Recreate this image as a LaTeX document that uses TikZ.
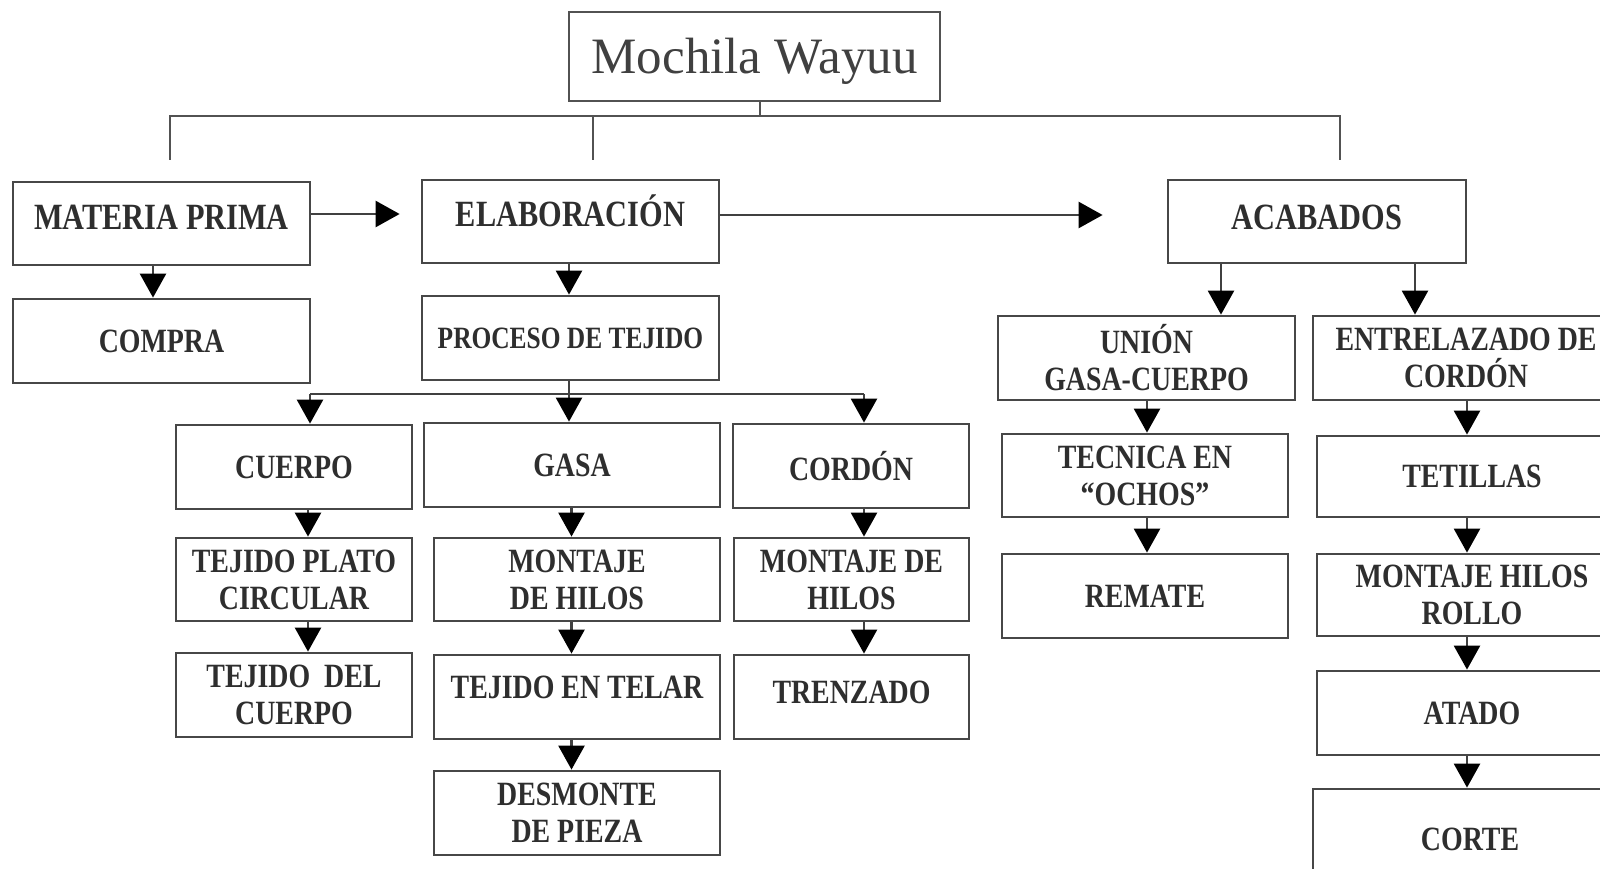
\documentclass[tikz,border=0pt]{standalone}
\usepackage{fontspec}
\setmainfont{Liberation Serif}
\newfontfamily\boxfont{Liberation Serif Bold}[FakeStretch=0.82]
\usetikzlibrary{arrows.meta}
\tikzset{
  box/.style={draw=black!72, line width=2.8pt, inner sep=0pt, align=center,
    text=black!82, font=\boxfont\fontsize{34}{37}\selectfont},
  bx/.style 2 args={box, minimum width=#1pt, minimum height=#2pt},
  big/.style={font=\boxfont\fontsize{37}{40}\selectfont},
  conn/.style={draw=black!75, line width=2.6pt},
  arr/.style={conn, -{Triangle[length=24pt,width=26pt,color=black]}},
  tline/.style={draw=black!68, line width=2pt},
}
\begin{document}
\begin{tikzpicture}[x=1pt,y=-1pt]
\useasboundingbox[fill=white] (0,0) rectangle (1600,869);

% title
\node[draw=black!68, line width=2pt, minimum width=371pt, minimum height=89pt,
  inner sep=0pt, text=black!75, font=\fontsize{51}{55}\selectfont,
  text height=34pt, text depth=0pt] (top) at (754.5,57) {Mochila Wayuu};

% first level
\node[bx={297}{83}, big, text depth=12pt] (mp) at (161.5,223.5) {MATERIA PRIMA};
\node[bx={297}{84}] (compra) at (161.5,341) {COMPRA};
\node[bx={297}{83}, big, text height=25pt, text depth=15pt] (elab) at (570.5,221.5) {ELABORACIÓN};
\node[bx={297}{84}, font=\boxfont\fontsize{31}{34}\selectfont] (proc) at (570.5,338) {PROCESO DE TEJIDO};
\node[bx={298}{83}, big, text depth=8pt] (acab) at (1317,221.5) {ACABADOS};

% elaboracion branches
\node[bx={236}{84}] (cuerpo) at (294,467) {CUERPO};
\node[bx={296}{84}] (gasa) at (572,465) {GASA};
\node[bx={236}{84}] (cordon) at (851,466) {CORDÓN};
\node[bx={236}{83}] (plato) at (294,579.5) {TEJIDO PLATO\\CIRCULAR};
\node[bx={236}{84}] (tcuerpo) at (294,695) {TEJIDO\ \ DEL\\CUERPO};
\node[bx={286}{83}] (mhilos) at (577,579.5) {MONTAJE\\DE HILOS};
\node[bx={286}{84}, text depth=20pt] (telar) at (577,697) {TEJIDO EN TELAR};
\node[bx={286}{84}] (desmonte) at (577,813) {DESMONTE\\DE PIEZA};
\node[bx={235}{83}] (mhilos2) at (851.5,579.5) {MONTAJE DE\\HILOS};
\node[bx={235}{84}, text depth=10pt] (trenzado) at (851.5,697) {TRENZADO};

% acabados branches
\node[bx={297}{84}] (union) at (1146.5,358) {UNIÓN\\GASA-CUERPO};
\node[bx={306}{84}] (entre) at (1466,358) {ENTRELAZADO DE\\CORDÓN};
\node[bx={286}{83}] (tecnica) at (1145,475.5) {TECNICA EN\\“OCHOS”};
\node[bx={286}{84}] (remate) at (1145,596) {REMATE};
\node[bx={310}{81}] (tetillas) at (1472,476.5) {TETILLAS};
\node[bx={310}{82}] (rollo) at (1472,595) {MONTAJE HILOS\\ROLLO};
\node[bx={310}{84}] (atado) at (1472,713) {ATADO};
\node[bx={314}{100}] (corte) at (1470,839) {CORTE};

% top connectors
\coordinate (j1) at (170,116);
\coordinate (j2) at (593,116);
\coordinate (j3) at (1340,116);
\coordinate (d1) at (170,160);
\coordinate (d2) at (593,160);
\coordinate (d3) at (1340,160);
\draw[tline] (d1) -- (j1) -- (j3) -- (d3);
\draw[tline] (j2) -- (d2);
\draw[tline] ([xshift=5.5pt]top.south) -- ([xshift=5.5pt]top.south |- j1);

% horizontal arrows
\draw[arr, shorten >=21pt] ([yshift=9.5pt]mp.east) -- ([yshift=9.5pt]mp.east -| elab.west);
\draw[arr, shorten >=64pt] ([yshift=6.5pt]elab.east) -- ([yshift=6.5pt]elab.east -| acab.west);

% down arrows
\draw[arr] ([xshift=-8.5pt]mp.south) -- ([xshift=-8.5pt]mp.south |- compra.north);
\draw[arr] ([xshift=-1.5pt]elab.south) -- ([xshift=-1.5pt]elab.south |- proc.north);

\coordinate (bL) at (310,394);
\coordinate (bR) at (864,394);
\draw[conn] (bL) -- (bR);
\draw[conn] ([xshift=-1.5pt]proc.south) -- ([xshift=-1.5pt]proc.south |- bL);
\draw[arr] (bL) -- (bL |- cuerpo.north);
\draw[arr] ([xshift=-1.5pt]proc.south |- bL) -- ([xshift=-1.5pt]proc.south |- gasa.north);
\draw[arr] (bR) -- (bR |- cordon.north);

\draw[arr] ([xshift=14pt]cuerpo.south) -- ([xshift=14pt]cuerpo.south |- plato.north);
\draw[arr] ([xshift=14pt]plato.south) -- ([xshift=14pt]plato.south |- tcuerpo.north);
\draw[arr] ([xshift=-0.5pt]gasa.south) -- ([xshift=-0.5pt]gasa.south |- mhilos.north);
\draw[arr] ([xshift=-5.5pt]mhilos.south) -- ([xshift=-5.5pt]mhilos.south |- telar.north);
\draw[arr] ([xshift=-5.5pt]telar.south) -- ([xshift=-5.5pt]telar.south |- desmonte.north);
\draw[arr] ([xshift=13pt]cordon.south) -- ([xshift=13pt]cordon.south |- mhilos2.north);
\draw[arr] ([xshift=12.5pt]mhilos2.south) -- ([xshift=12.5pt]mhilos2.south |- trenzado.north);

\draw[arr] ([xshift=-96pt]acab.south) -- ([xshift=-96pt]acab.south |- union.north);
\draw[arr] ([xshift=98pt]acab.south) -- ([xshift=98pt]acab.south |- entre.north);
\draw[arr] ([xshift=0.5pt]union.south) -- ([xshift=0.5pt]union.south |- tecnica.north);
\draw[arr] ([xshift=2pt]tecnica.south) -- ([xshift=2pt]tecnica.south |- remate.north);
\draw[arr] ([xshift=1pt]entre.south) -- ([xshift=1pt]entre.south |- tetillas.north);
\draw[arr] ([xshift=-5pt]tetillas.south) -- ([xshift=-5pt]tetillas.south |- rollo.north);
\draw[arr] ([xshift=-5pt]rollo.south) -- ([xshift=-5pt]rollo.south |- atado.north);
\draw[arr] ([xshift=-5pt]atado.south) -- ([xshift=-5pt]atado.south |- corte.north);
\end{tikzpicture}
\end{document}
